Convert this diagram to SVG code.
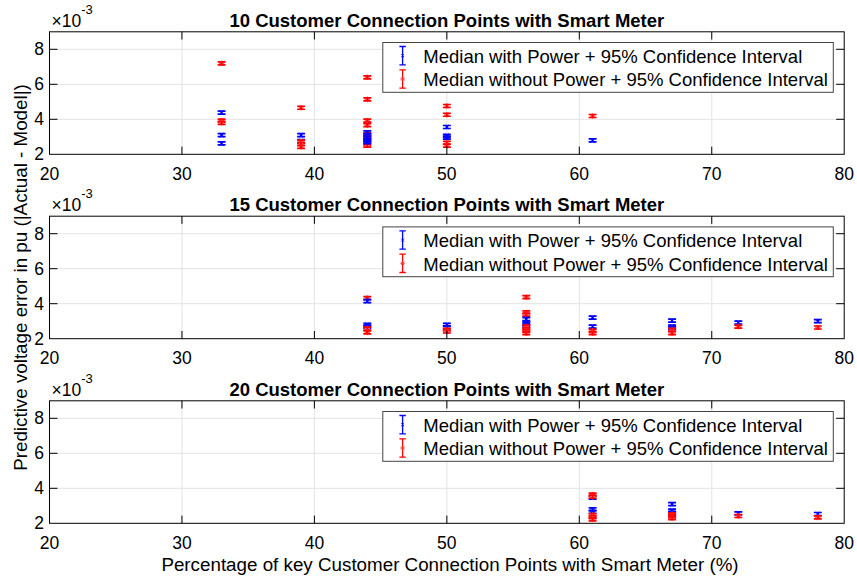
<svg xmlns="http://www.w3.org/2000/svg" xmlns:xlink="http://www.w3.org/1999/xlink" width="857" height="579" viewBox="0 0 857 579">
<style>
text{font-family:"Liberation Sans",Arial,Helvetica,sans-serif;fill:#000}
.tk{font-size:17.5px}
.xt{text-anchor:middle}
.yt{text-anchor:end}
.ttl{font-size:18.5px;font-weight:bold;text-anchor:middle}
.lg{font-size:18.5px}
.lab{font-size:18.8px;text-anchor:middle}
.grid{stroke:#e3e3e3;stroke-width:1;fill:none}
.ax{stroke:#000;stroke-width:1;fill:none}
.lbox{fill:#fff;stroke:#444;stroke-width:1}
.sup{font-size:13px}
</style>
<defs>
<g id="b">
<path d="M-4,-1.5H4M-4,1.5H4M0,-1.5V1.5" stroke="#0000ff" stroke-width="1.7" fill="none"/>
<path d="M-2.2,-2.2L2.2,2.2M-2.2,2.2L2.2,-2.2" stroke="#0000ff" stroke-width="1.1" fill="none"/>
</g>
<g id="r">
<path d="M-2.8,0H2.8M0,-2.8V2.8M-2,-2L2,2M-2,2L2,-2" stroke="#ff6060" stroke-width="1.2" fill="none"/>
<path d="M-4,-1.5H4M-4,1.5H4M0,-1.5V1.5" stroke="#ff0000" stroke-width="1.7" fill="none"/>
</g>
<g id="gridlines">
<path class="grid" d="M181.95,0V122.5M314.4,0V122.5M446.85,0V122.5M579.3,0V122.5M711.75,0V122.5M49.5,17.5H844.2M49.5,52.5H844.2M49.5,87.5H844.2"/>
</g>
<g id="axbox">
<rect class="ax" x="49.5" y="0" width="794.7" height="122.5"/>
<path class="ax" d="M181.95,122.5v-7.7M314.4,122.5v-7.7M446.85,122.5v-7.7M579.3,122.5v-7.7M711.75,122.5v-7.7M181.95,0v7.7M314.4,0v7.7M446.85,0v7.7M579.3,0v7.7M711.75,0v7.7M49.5,17.5h8M49.5,52.5h8M49.5,87.5h8M844.2,17.5h-8M844.2,52.5h-8M844.2,87.5h-8"/>
<g class="tk">
<text class="xt" x="49.5" y="148.2">20</text>
<text class="xt" x="181.95" y="148.2">30</text>
<text class="xt" x="314.4" y="148.2">40</text>
<text class="xt" x="446.85" y="148.2">50</text>
<text class="xt" x="579.3" y="148.2">60</text>
<text class="xt" x="711.75" y="148.2">70</text>
<text class="xt" x="844.2" y="148.2">80</text>
<text class="yt" x="44" y="128.5">2</text>
<text class="yt" x="44" y="93.5">4</text>
<text class="yt" x="44" y="58.5">6</text>
<text class="yt" x="44" y="23.5">8</text>
</g>
<text class="tk" x="51.5" y="-5.1">×10<tspan class="sup" dy="-13">-3</tspan></text>
</g>
<g id="legend">
<rect class="lbox" x="382.8" y="10.7" width="450.5" height="49.8"/>
<path d="M402.6,14.7V33M399.4,14.7H405.8M399.4,33H405.8" stroke="#0000ff" stroke-width="1.3" fill="none"/>
<path d="M401.2,22.5L404,25.3M401.2,25.3L404,22.5" stroke="#0000ff" stroke-width="0.9" fill="none"/>
<path d="M402.6,38V56.3M399.4,38H405.8M399.4,56.3H405.8" stroke="#ff0000" stroke-width="1.3" fill="none"/>
<path d="M400.4,47.2H404.8M402.6,45V49.4M401,45.6L404.2,48.8M401,48.8L404.2,45.6" stroke="#ff3030" stroke-width="0.9" fill="none"/>
<text class="lg" x="423.3" y="31.3">Median with Power + 95% Confidence Interval</text>
<text class="lg" x="423.3" y="54.7">Median without Power + 95% Confidence Interval</text>
</g>
</defs>
<rect x="0" y="0" width="857" height="579" fill="#fff"/>

<g id="plot1">
<use href="#gridlines" transform="translate(0,31.8)"/>
<g id="plot1-data">
<use href="#r" x="221.6" y="63.3"/>
<use href="#b" x="221.6" y="112.65"/>
<use href="#r" x="221.6" y="120.7"/>
<use href="#r" x="221.6" y="122.8"/>
<use href="#b" x="221.6" y="135.05"/>
<use href="#b" x="221.6" y="143.3"/>
<use href="#r" x="301.1" y="107.75"/>
<use href="#b" x="301.1" y="135.05"/>
<use href="#b" x="301.1" y="141.2"/>
<use href="#r" x="301.1" y="141.7"/>
<use href="#r" x="301.1" y="144"/>
<use href="#r" x="301.1" y="146.8"/>
<use href="#r" x="367.3" y="77.3"/>
<use href="#r" x="367.3" y="99.35"/>
<use href="#r" x="367.3" y="120.7"/>
<use href="#r" x="367.3" y="125.1"/>
<use href="#r" x="367.3" y="134.2"/>
<use href="#r" x="367.3" y="136.8"/>
<use href="#r" x="367.3" y="139.4"/>
<use href="#r" x="367.3" y="143.8"/>
<use href="#r" x="367.3" y="145.55"/>
<use href="#b" x="367.3" y="132.4"/>
<use href="#b" x="367.3" y="135.05"/>
<use href="#b" x="367.3" y="137.7"/>
<use href="#b" x="367.3" y="140.3"/>
<use href="#b" x="367.3" y="142.05"/>
<use href="#r" x="446.85" y="106"/>
<use href="#r" x="446.85" y="114.75"/>
<use href="#b" x="446.85" y="127"/>
<use href="#b" x="446.85" y="135.9"/>
<use href="#b" x="446.85" y="137.7"/>
<use href="#r" x="446.85" y="142.75"/>
<use href="#r" x="446.85" y="145.55"/>
<use href="#r" x="592.6" y="116"/>
<use href="#b" x="592.6" y="140.3"/>
</g>
<use href="#axbox" transform="translate(0,31.8)"/>
<text class="ttl" x="446.85" y="26.7">10 Customer Connection Points with Smart Meter</text>
<use href="#legend" transform="translate(0,31.8)"/>
</g>

<g id="plot2">
<use href="#gridlines" transform="translate(0,216.2)"/>
<g id="plot2-data">
<use href="#r" x="367.3" y="298.1"/>
<use href="#b" x="367.3" y="301.1"/>
<use href="#b" x="367.3" y="324.9"/>
<use href="#b" x="367.3" y="326.6"/>
<use href="#r" x="367.3" y="328.55"/>
<use href="#r" x="367.3" y="332.4"/>
<use href="#b" x="446.85" y="324.9"/>
<use href="#b" x="446.85" y="327.3"/>
<use href="#r" x="446.85" y="329.95"/>
<use href="#r" x="446.85" y="331.5"/>
<use href="#r" x="526.3" y="297.2"/>
<use href="#r" x="526.3" y="312.45"/>
<use href="#r" x="526.3" y="314.55"/>
<use href="#b" x="526.3" y="319.1"/>
<use href="#b" x="526.3" y="323.3"/>
<use href="#b" x="526.3" y="324.9"/>
<use href="#r" x="526.3" y="326.6"/>
<use href="#r" x="526.3" y="329.1"/>
<use href="#r" x="526.3" y="330.8"/>
<use href="#r" x="526.3" y="333.1"/>
<use href="#b" x="592.6" y="317.7"/>
<use href="#b" x="592.6" y="326.6"/>
<use href="#r" x="592.6" y="330.8"/>
<use href="#r" x="592.6" y="333.1"/>
<use href="#b" x="672.1" y="320.7"/>
<use href="#b" x="672.1" y="326.6"/>
<use href="#b" x="672.1" y="328.2"/>
<use href="#r" x="672.1" y="329.95"/>
<use href="#r" x="672.1" y="333.1"/>
<use href="#b" x="738.3" y="322.6"/>
<use href="#r" x="738.3" y="326.6"/>
<use href="#b" x="817.8" y="321.2"/>
<use href="#r" x="817.8" y="327.5"/>
</g>
<use href="#axbox" transform="translate(0,216.2)"/>
<text class="ttl" x="446.85" y="211.1">15 Customer Connection Points with Smart Meter</text>
<use href="#legend" transform="translate(0,216.2)"/>
</g>

<g id="plot3">
<use href="#gridlines" transform="translate(0,400.8)"/>
<g id="plot3-data">
<use href="#b" x="592.6" y="497.75"/>
<use href="#r" x="592.6" y="494.6"/>
<use href="#r" x="592.6" y="496.7"/>
<use href="#b" x="592.6" y="509.3"/>
<use href="#b" x="592.6" y="511.75"/>
<use href="#r" x="592.6" y="515.1"/>
<use href="#r" x="592.6" y="517.2"/>
<use href="#r" x="592.6" y="519.3"/>
<use href="#b" x="672.1" y="504.05"/>
<use href="#b" x="672.1" y="510.7"/>
<use href="#b" x="672.1" y="512.8"/>
<use href="#r" x="672.1" y="514.4"/>
<use href="#r" x="672.1" y="516.3"/>
<use href="#r" x="672.1" y="518.2"/>
<use href="#b" x="738.3" y="513.3"/>
<use href="#r" x="738.3" y="516"/>
<use href="#b" x="817.8" y="514"/>
<use href="#r" x="817.8" y="517.35"/>
</g>
<use href="#axbox" transform="translate(0,400.8)"/>
<text class="ttl" x="446.85" y="395.5">20 Customer Connection Points with Smart Meter</text>
<use href="#legend" transform="translate(0,400.8)"/>
</g>

<g id="labels">
<text class="lab" x="450" y="571">Percentage of key Customer Connection Points with Smart Meter (%)</text>
<text class="lab" transform="translate(26.5,277.5) rotate(-90)">Predictive voltage error in pu (|Actual - Model|)</text>
</g>
</svg>
